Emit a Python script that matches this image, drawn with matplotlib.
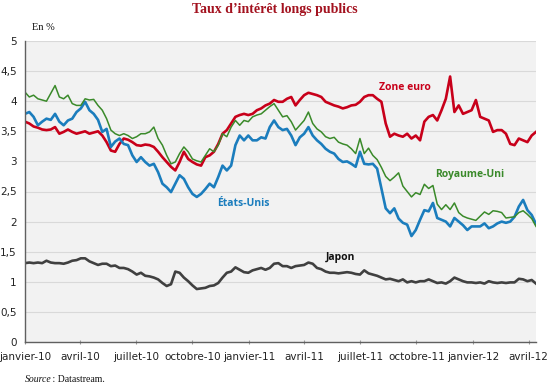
import matplotlib
matplotlib.use("Agg")
import matplotlib.pyplot as plt
import pandas as pd

dates = pd.date_range("2010-01-01", periods=120, freq="7D")

zone_euro = [3.66, 3.63, 3.58, 3.56, 3.53, 3.52, 3.53, 3.57, 3.46, 3.49,
             3.53, 3.49, 3.46, 3.48, 3.50, 3.46, 3.48, 3.50, 3.43, 3.32,
             3.18, 3.16, 3.29, 3.38, 3.36, 3.32, 3.27, 3.26, 3.28, 3.27,
             3.24, 3.16, 3.07, 2.99, 2.91, 2.85, 2.99, 3.16, 3.04, 2.99,
             2.95, 2.93, 3.07, 3.10, 3.16, 3.29, 3.46, 3.52, 3.63, 3.74,
             3.77, 3.79, 3.77, 3.79, 3.85, 3.88, 3.93, 3.96, 4.02, 3.99,
             3.99, 4.04, 4.07, 3.93, 4.02, 4.10, 4.14, 4.12, 4.10, 4.07,
             3.99, 3.96, 3.93, 3.91, 3.88, 3.90, 3.93, 3.94, 3.99, 4.07,
             4.10, 4.10, 4.04, 3.99, 3.63, 3.41, 3.46, 3.43, 3.41, 3.46,
             3.38, 3.43, 3.35, 3.66, 3.74, 3.77, 3.68, 3.85, 4.04, 4.41,
             3.82, 3.93, 3.79, 3.82, 3.85, 4.02, 3.74, 3.71, 3.68, 3.49,
             3.52, 3.52, 3.46, 3.29, 3.27, 3.38, 3.35, 3.32, 3.43, 3.49]

royaume_uni = [4.15, 4.07, 4.10, 4.04, 4.02, 4.00, 4.13, 4.26, 4.07, 4.04,
               4.10, 3.96, 3.93, 3.93, 4.04, 4.02, 4.03, 3.93, 3.85, 3.71,
               3.52, 3.46, 3.43, 3.46, 3.43, 3.38, 3.41, 3.46, 3.46, 3.49,
               3.57, 3.38, 3.27, 3.10, 2.96, 2.99, 3.13, 3.24, 3.16, 3.04,
               3.01, 2.99, 3.10, 3.21, 3.16, 3.27, 3.46, 3.41, 3.57, 3.68,
               3.60, 3.68, 3.66, 3.74, 3.77, 3.79, 3.85, 3.91, 3.96, 3.85,
               3.74, 3.76, 3.66, 3.52, 3.60, 3.68, 3.82, 3.63, 3.54, 3.49,
               3.41, 3.38, 3.40, 3.32, 3.29, 3.27, 3.21, 3.13, 3.38, 3.13,
               3.22, 3.10, 3.03, 2.90, 2.75, 2.68, 2.74, 2.81, 2.59, 2.50,
               2.41, 2.48, 2.45, 2.62, 2.55, 2.60, 2.29, 2.20, 2.28, 2.20,
               2.31, 2.15, 2.09, 2.06, 2.04, 2.02, 2.09, 2.16, 2.12, 2.18,
               2.17, 2.15, 2.06, 2.07, 2.08, 2.15, 2.18, 2.12, 2.05, 1.92]

etats_unis = [3.79, 3.82, 3.74, 3.60, 3.66, 3.71, 3.69, 3.79, 3.66, 3.60,
              3.68, 3.71, 3.82, 3.88, 3.99, 3.85, 3.79, 3.69, 3.49, 3.54,
              3.24, 3.33, 3.38, 3.29, 3.27, 3.10, 2.99, 3.07, 2.99, 2.93,
              2.96, 2.82, 2.63, 2.57, 2.49, 2.63, 2.77, 2.71, 2.57, 2.46,
              2.41, 2.46, 2.54, 2.63, 2.57, 2.74, 2.93, 2.85, 2.93, 3.27,
              3.43, 3.35, 3.43, 3.35, 3.35, 3.40, 3.38, 3.57, 3.68, 3.57,
              3.52, 3.54, 3.43, 3.27, 3.40, 3.46, 3.57, 3.43, 3.35, 3.29,
              3.21, 3.16, 3.13, 3.04, 2.99, 3.00, 2.96, 2.91, 3.16, 2.96,
              2.95, 2.96, 2.88, 2.55, 2.22, 2.14, 2.22, 2.05, 1.98, 1.95,
              1.76, 1.86, 2.03, 2.19, 2.17, 2.31, 2.06, 2.03, 2.00, 1.92,
              2.06, 2.00, 1.94, 1.86, 1.92, 1.92, 1.92, 1.97, 1.89, 1.92,
              1.97, 2.00, 1.98, 2.00, 2.08, 2.25, 2.36, 2.19, 2.11, 1.96]

japon = [1.31, 1.32, 1.31, 1.32, 1.31, 1.35, 1.32, 1.31, 1.31, 1.30,
         1.32, 1.35, 1.36, 1.39, 1.39, 1.34, 1.31, 1.28, 1.30, 1.30,
         1.26, 1.27, 1.23, 1.23, 1.21, 1.17, 1.12, 1.15, 1.10, 1.09,
         1.07, 1.04, 0.98, 0.93, 0.96, 1.17, 1.15, 1.07, 1.01, 0.94,
         0.88, 0.89, 0.90, 0.93, 0.94, 0.98, 1.07, 1.15, 1.17, 1.24,
         1.20, 1.16, 1.15, 1.19, 1.21, 1.23, 1.20, 1.23, 1.30, 1.31,
         1.26, 1.26, 1.23, 1.26, 1.27, 1.28, 1.32, 1.30, 1.23, 1.21,
         1.17, 1.15, 1.15, 1.14, 1.15, 1.16, 1.15, 1.13, 1.12, 1.19,
         1.14, 1.12, 1.10, 1.07, 1.04, 1.05, 1.03, 1.01, 1.04, 0.99,
         1.01, 0.99, 1.01, 1.01, 1.04, 1.01, 0.98, 0.99, 0.97, 1.01,
         1.07, 1.04, 1.01, 0.99, 0.99, 0.98, 0.99, 0.97, 1.01, 0.99,
         0.98, 0.99, 0.98, 0.99, 0.99, 1.05, 1.04, 1.01, 1.03, 0.97]

x_tick_dates = ["2010-01-01", "2010-04-01", "2010-07-01", "2010-10-01",
                "2011-01-01", "2011-04-01", "2011-07-01", "2011-10-01",
                "2012-01-01", "2012-04-01"]
x_tick_labels = ["janvier-10", "avril-10", "juillet-10", "octobre-10",
                 "janvier-11", "avril-11", "juillet-11", "octobre-11",
                 "janvier-12", "avril-12"]
y_ticks = [0, 0.5, 1, 1.5, 2, 2.5, 3, 3.5, 4, 4.5, 5]
y_tick_labels = ["0", "0,5", "1", "1,5", "2", "2,5", "3", "3,5", "4", "4,5", "5"]

fig = plt.figure(figsize=(5.5, 3.86), dpi=100)
ax = fig.add_axes([25/550, 1 - 342/386, (536 - 25)/550, (342 - 41)/386])
ax.set_facecolor("#f2f2f2")

c_red = "#c8001a"
c_green = "#3a8a2a"
c_blue = "#1b7dbd"
c_jap = "#404040"

ax.plot(dates, japon, color=c_jap, lw=1.9, solid_joinstyle="round")
ax.plot(dates, zone_euro, color=c_red, lw=1.9, solid_joinstyle="round")
ax.plot(dates, etats_unis, color=c_blue, lw=1.9, solid_joinstyle="round")
ax.plot(dates, royaume_uni, color=c_green, lw=1.1, solid_joinstyle="round")

ax.set_ylim(0, 5)
ax.set_xlim(pd.Timestamp("2010-01-01"), dates[-1])
ax.set_yticks(y_ticks)
ax.set_yticklabels(y_tick_labels)
ax.set_xticks(pd.to_datetime(x_tick_dates))
ax.set_xticklabels(x_tick_labels)
ax.yaxis.grid(True, color="#d9d9d9", lw=0.8)
ax.set_axisbelow(True)
for s in ["top", "right"]:
    ax.spines[s].set_visible(False)
ax.spines["left"].set_color("#606060")
ax.spines["bottom"].set_color("#606060")
ax.spines["left"].set_linewidth(1.0)
ax.spines["bottom"].set_linewidth(1.0)
ax.tick_params(axis="y", length=0, labelsize=7.5, pad=6, labelcolor="#222222")
ax.tick_params(axis="x", length=3, direction="inout", color="#999999",
               labelsize=7.5, pad=6, labelcolor="#222222")

lab_font = dict(fontsize=7.5, fontweight="bold", family="Open Sans", va="center", ha="left")
ax.text(pd.Timestamp("2011-08-01"), 4.23, "Zone euro", color=c_red, **lab_font)
ax.text(pd.Timestamp("2011-11-01"), 2.78, "Royaume-Uni", color=c_green, **lab_font)
ax.text(pd.Timestamp("2010-11-11"), 2.30, "États-Unis", color=c_blue, **lab_font)
ax.text(pd.Timestamp("2011-05-06"), 1.40, "Japon", color="#111111", **lab_font)

fig.text(0.5, 1 - 9/386, "Taux d\u2019intérêt longs publics", ha="center", va="center",
         fontsize=10, fontweight="bold", family="Liberation Serif", color="#a3121f")
fig.text(32/550, 1 - 27/386, "En %", ha="left", va="center", fontsize=7.5,
         family="Liberation Serif", color="#111111")
fig.text(25/550, 1 - 379/386, "Source", ha="left", va="center", fontsize=7,
         family="Liberation Serif", style="italic", color="#111111")
fig.text(50/550, 1 - 379/386, " : Datastream.", ha="left", va="center", fontsize=7,
         family="Liberation Serif", color="#111111")

fig.savefig("out.png", dpi=100)
